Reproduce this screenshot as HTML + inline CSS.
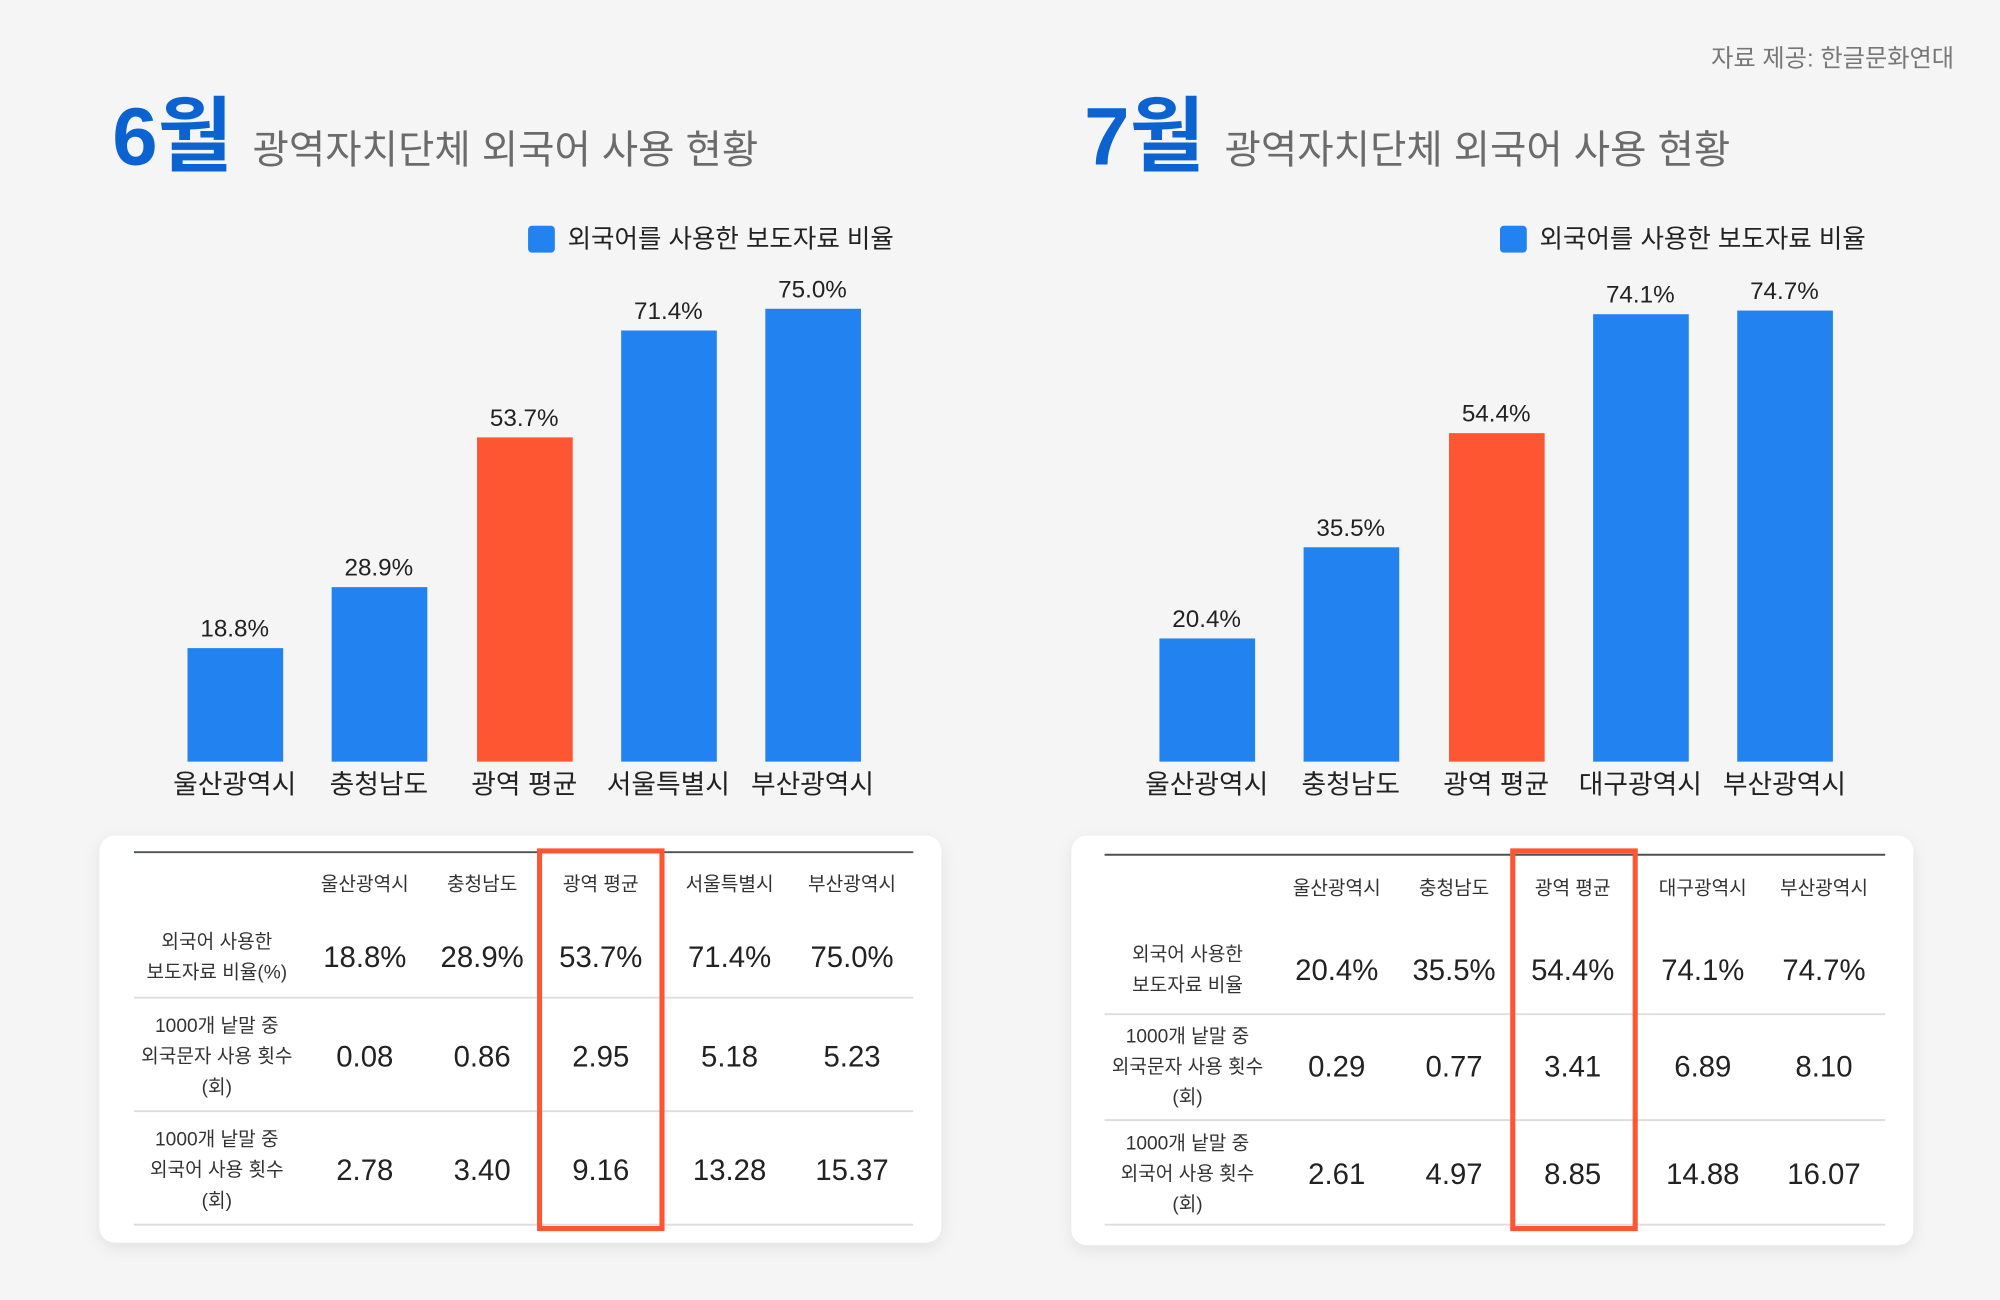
<!DOCTYPE html>
<html><head><meta charset="utf-8">
<style>
html,body{margin:0;padding:0;background:#f5f5f5;}
svg{display:block;font-family:"Liberation Sans","Noto Sans CJK KR",sans-serif;}
</style></head>
<body>
<svg id="root" width="2000" height="1300" viewBox="0 0 1568 1019" preserveAspectRatio="none" xmlns="http://www.w3.org/2000/svg">
<defs><filter id="sh" x="-10%" y="-10%" width="120%" height="130%"><feDropShadow dx="0" dy="4" stdDeviation="6" flood-color="#000" flood-opacity="0.08"/></filter></defs>
<rect width="1568" height="1019" fill="#f5f5f5"/>
<text x="1532" y="52" text-anchor="end" font-size="19" fill="#777">자료 제공: 한글문화연대</text>
<g id="panels"></g>
</svg>
<script>
const cats6 = ["울산광역시","충청남도","광역 평균","서울특별시","부산광역시"];
const vals6 = [18.8, 28.9, 53.7, 71.4, 75.0];
const cats7 = ["울산광역시","충청남도","광역 평균","대구광역시","부산광역시"];
const vals7 = [20.4, 35.5, 54.4, 74.1, 74.7];
const rowLabels6 = [["외국어 사용한","보도자료 비율(%)"],["1000개 낱말 중","외국문자 사용 횟수","(회)"],["1000개 낱말 중","외국어 사용 횟수","(회)"]];
const rowLabels7 = [["외국어 사용한","보도자료 비율"],["1000개 낱말 중","외국문자 사용 횟수","(회)"],["1000개 낱말 중","외국어 사용 횟수","(회)"]];
const tbl6 = [["18.8%","28.9%","53.7%","71.4%","75.0%"],["0.08","0.86","2.95","5.18","5.23"],["2.78","3.40","9.16","13.28","15.37"]];
const tbl7 = [["20.4%","35.5%","54.4%","74.1%","74.7%"],["0.29","0.77","3.41","6.89","8.10"],["2.61","4.97","8.85","14.88","16.07"]];

const NS="http://www.w3.org/2000/svg";
const root=document.getElementById('panels');
function el(tag,attrs,parent,txt){const e=document.createElementNS(NS,tag);for(const k in attrs)e.setAttribute(k,attrs[k]);if(txt!==undefined)e.textContent=txt;(parent||root).appendChild(e);return e;}

const baseY=597, pxPer=4.733;
function yScale(v){return baseY - v*pxPer;}

function panel(ox, month, cats, vals, rowLabels, tbl, lay){
  const g=el('g',{});
  
  
  const t1=el('text',{x:ox+88,y:129,'font-size':64,'font-weight':'bold',fill:'#0a63d0'},g,month+'월');
  
  
  const t2=el('text',{x:ox+198,y:128,'font-size':31,fill:'#6b6b6b'},g,'광역자치단체 외국어 사용 현황');
  
  
  const lg=el('g',{},g);
  
  
  el('rect',{x:ox+414,y:177,width:21,height:21,rx:3,fill:'#2283f0'},lg);
  el('text',{x:ox+445,y:194,'font-size':20,fill:'#222'},lg,'외국어를 사용한 보도자료 비율');
  const centers=[184,297,411,524,637];
  vals.forEach((v,i)=>{
    const cx=ox+centers[i];
    const b=el('rect',{x:cx-37,y:yScale(v),width:75,height:baseY-yScale(v),fill:i===2?'#fe5533':'#2283f0'},g);
    
    
    const lb=el('text',{x:cx,y:yScale(v)-9,'font-size':19,'text-anchor':'middle',fill:'#222'},g,v.toFixed(1)+'%');
    
    
    const cl=el('text',{x:cx,y:622,'font-size':21,'text-anchor':'middle',fill:'#222'},g,cats[i]);
    
    
  });
  const tg=el('g',{},g);
  
  
  el('rect',{x:lay.cx,y:655,width:660,height:lay.ch,rx:12,fill:'#fff',filter:'url(#sh)'},tg);
  el('line',{x1:lay.lx1,x2:lay.lx2,y1:lay.top,y2:lay.top,stroke:'#4a5352','stroke-width':1.5},tg);
  lay.seps.forEach(y=>el('line',{x1:lay.lx1,x2:lay.lx2,y1:y,y2:y,stroke:'#ddd','stroke-width':1.5},tg));
  cats.forEach((c,i)=>{
    const h=el('text',{x:lay.cols[i],y:lay.hy,'font-size':15,'text-anchor':'middle',fill:'#333'},tg,c);
    
    
  });
  tbl.forEach((row,r)=>{
    const ry=lay.rows[r];
    const ls=rowLabels[r];
    ls.forEach((s,k)=>el('text',{x:lay.labx,y:ry+(k-(ls.length-1)/2)*24+5,'font-size':15,'text-anchor':'middle',fill:'#333'},tg,s));
    row.forEach((s,i)=>{
      const c=el('text',{x:lay.cols[i],y:ry+8,'font-size':23,'text-anchor':'middle',fill:'#222'},tg,s);
      
      
    });
  });
  const hb=el('rect',{x:lay.bx,y:lay.by,width:96,height:296,fill:'none',stroke:'#fe5533','stroke-width':4},tg);
  
  
}
panel(0,6,cats6,vals6,rowLabels6,tbl6,{cx:78,ch:319,lx1:105,lx2:716,top:668,seps:[782,871,960],cols:[286,378,471,572,668],hy:698,rows:[750,828,917],labx:170,bx:423,by:667});
panel(762,7,cats7,vals7,rowLabels7,tbl7,{cx:840,ch:321,lx1:866,lx2:1478,top:670,seps:[795,878,960],cols:[1048,1140,1233,1335,1430],hy:701,rows:[760,836,920],labx:931,bx:1186,by:667});
</script>
</body></html>
